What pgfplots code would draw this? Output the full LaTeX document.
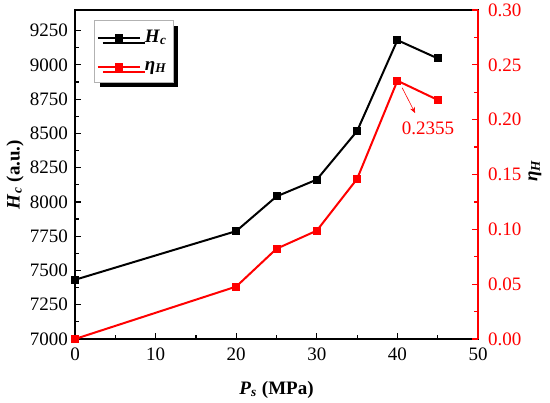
\documentclass[border=0pt]{standalone}
\usepackage{pgfplots}
\pgfplotsset{compat=1.18}
\usepackage{fontspec}
\setmainfont{Liberation Serif}
\usetikzlibrary{shadows,arrows.meta}
\begin{document}
\begin{tikzpicture}
\path[use as bounding box] (0,0) rectangle (275pt,201pt);
\begin{axis}[
  at={(37.5pt,31.5pt)}, anchor=south west,
  scale only axis, width=201.5pt, height=164.5pt,
  xmin=0, xmax=50, ymin=7000, ymax=9400,
  xtick={0,10,...,50}, minor x tick num=1,
  ytick={7000,7250,...,9250}, minor y tick num=1,
  xtick pos=bottom, ytick pos=left,
  tick align=inside,
  major tick length=3pt, minor tick length=1.8pt,
  every tick/.style={black, line width=0.6pt},
  axis line style={line width=1pt},
  /pgf/number format/assume math mode=true,
  /pgf/number format/1000 sep={},
  ticklabel style={font=\rmfamily\fontsize{9.5}{11}\selectfont},
  xticklabel style={yshift=-1pt},
  xlabel={\textbf{\textit{P}\textsubscript{\textit{s}} (MPa)}},
  ylabel={\textbf{\textit{H}\textsubscript{\textit{c}} (a.u.)}},
  every axis x label/.style={at={(axis description cs:0.5,0)}, anchor=center, yshift=-25.5pt, font=\fontsize{9.5}{11}\selectfont},
  every axis y label/.style={at={(axis description cs:0,0.5)}, xshift=-30pt, anchor=center, rotate=90, font=\fontsize{9.5}{11}\selectfont},
  legend style={at={(axis cs:2.4,9325)}, anchor=north west, draw=gray!60, line width=0.5pt, fill=white,
    font=\fontsize{9.5}{11}\selectfont, inner xsep=1pt, inner ysep=2.5pt, row sep=4pt,
    drop shadow={shadow xshift=2.5pt, shadow yshift=-2.5pt, fill=black, opacity=1}},
  legend cell align=left,
  legend image code/.code={\draw[mark repeat=2,mark phase=2] plot coordinates {(0cm,0cm) (0.37cm,0cm) (0.74cm,0cm)};},
  legend image post style={line width=1pt},
]
\addplot[black, line width=1pt, mark=square*, mark size=1.5pt] coordinates {
(0,7432) (20,7787) (25,8040) (30,8163) (35,8517) (40,9180) (45,9047)};
\addlegendentry{\textbf{\textit{H}\textsubscript{\textit{c}}}}
\addlegendimage{red, line width=1pt, mark=square*, mark size=1.5pt}
\addlegendentry{\textbf{\textit{η}\textsubscript{\textit{H}}}}
\end{axis}
\begin{axis}[
  at={(37.5pt,31.5pt)}, anchor=south west,
  scale only axis, width=201.5pt, height=164.5pt,
  xmin=0, xmax=50, ymin=0, ymax=0.30,
  axis x line=none, axis y line*=right,
  ytick={0,0.05,...,0.30}, minor y tick num=1,
  tick align=inside,
  major tick length=3pt, minor tick length=1.8pt,
  every tick/.style={red, line width=0.6pt},
  axis line style={red, line width=1pt},
  /pgf/number format/assume math mode=true,
  yticklabel style={font=\rmfamily\fontsize{9.5}{11}\selectfont, red, xshift=1.5pt, /pgf/number format/.cd, fixed, fixed zerofill, precision=2},
  ylabel={\textbf{\textit{η}\textsubscript{\textit{H}}}},
  every axis y label/.style={at={(axis description cs:1,0.5)}, xshift=28.5pt, yshift=2pt, anchor=center, rotate=90, font=\fontsize{9.5}{11}\selectfont},
]
\addplot[red, line width=1pt, mark=square*, mark size=1.5pt] coordinates {
(0,0) (20,0.0478) (25,0.0823) (30,0.0988) (35,0.146) (40,0.2355) (45,0.218)};
\draw[red, line width=0.3pt, -{Stealth[length=3pt,width=2.5pt]}] (axis cs:40.6,0.229) -- (axis cs:42.2,0.206);
\node[red, font=\fontsize{9.5}{11}\selectfont] at (axis cs:43.8,0.192) {0.2355};
\end{axis}
\end{tikzpicture}
\end{document}
